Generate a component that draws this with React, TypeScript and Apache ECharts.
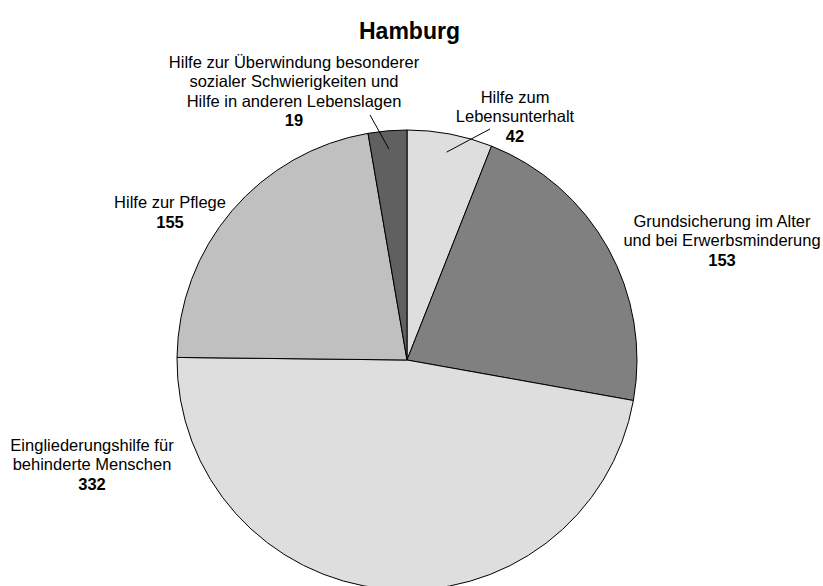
import React, { useEffect, useRef } from "react";
import * as echarts from "echarts";

const TITLE = "Hamburg";
const categories = [
  "Hilfe zum\nLebensunterhalt",
  "Grundsicherung im Alter\nund bei Erwerbsminderung",
  "Eingliederungshilfe für\nbehinderte Menschen",
  "Hilfe zur Pflege",
  "Hilfe zur Überwindung besonderer\nsozialer Schwierigkeiten und\nHilfe in anderen Lebenslagen",
];
const values = [42, 153, 332, 155, 19];
const colors = ["#dedede", "#808080", "#dedede", "#c0c0c0", "#606060"];
// label block centres (px) and optional leader-line end points
const labelCenters = [
  [515, 116],
  [722, 240],
  [92, 464],
  [170, 212],
  [294, 91],
];
const leaderEnds: (number[] | null)[] = [[490, 129], null, null, null, [370, 115]];

const CX = 407;
const CY = 360;
const R = 230;
const FONT = '"Liberation Sans", Arial, sans-serif';

export default function App() {
  const ref = useRef<HTMLDivElement>(null);
  useEffect(() => {
    document.body.style.margin = "0";
    const chart = echarts.init(ref.current!, null, { renderer: "svg" });
    const total = values.reduce((a, b) => a + b, 0);
    const midAngles: number[] = [];
    let acc = 0;
    values.forEach((v) => {
      midAngles.push(((acc + v / 2) / total) * Math.PI * 2);
      acc += v;
    });
    const common = {
      type: "pie",
      center: [CX, CY],
      radius: R,
      startAngle: 90,
      clockwise: true,
      avoidLabelOverlap: false,
      emphasis: { disabled: true },
      silent: true,
    };
    chart.setOption({
      animation: false,
      backgroundColor: "#ffffff",
      title: {
        text: TITLE,
        left: 354,
        top: 14,
        textStyle: { fontFamily: FONT, fontSize: 23, fontWeight: "bold", color: "#000" },
      },
      series: [
        {
          ...common,
          z: 2,
          itemStyle: { borderColor: "#000", borderWidth: 1 },
          label: { show: false },
          labelLine: { show: false },
          data: categories.map((name, i) => ({
            name,
            value: values[i],
            itemStyle: { color: colors[i] },
          })),
        },
        {
          ...common,
          z: 3,
          itemStyle: { color: "rgba(0,0,0,0)", borderWidth: 0 },
          label: {
            show: true,
            position: "outside",
            fontFamily: FONT,
            formatter: (p: any) => `{n|${p.name.split("\n").join("}\n{n|")}}\n{v|${p.value}}`,
            rich: {
              n: { fontFamily: FONT, fontSize: 16.5, lineHeight: 19.5, color: "#000", align: "center" },
              v: { fontFamily: FONT, fontSize: 16.5, lineHeight: 19.5, color: "#000", fontWeight: "bold", align: "center" },
            },
          },
          labelLine: { show: false, lineStyle: { color: "#000", width: 1 } },
          labelLayout: (params: any) => {
            const i = params.dataIndex;
            const out: any = {
              x: labelCenters[i][0],
              y: labelCenters[i][1],
              align: "center",
              verticalAlign: "middle",
            };
            const end = leaderEnds[i];
            if (end) {
              const a = midAngles[i];
              const start = [CX + 0.92 * R * Math.sin(a), CY - 0.92 * R * Math.cos(a)];
              out.labelLinePoints = [start, [(start[0] + end[0]) / 2, (start[1] + end[1]) / 2], end];
            }
            return out;
          },
          data: categories.map((name, i) => ({
            name,
            value: values[i],
            labelLine: { show: leaderEnds[i] != null, lineStyle: { color: "#000", width: 1 } },
          })),
        },
      ],
    });
    return () => chart.dispose();
  }, []);
  return <div ref={ref} style={{ width: 823, height: 586 }} />;
}
